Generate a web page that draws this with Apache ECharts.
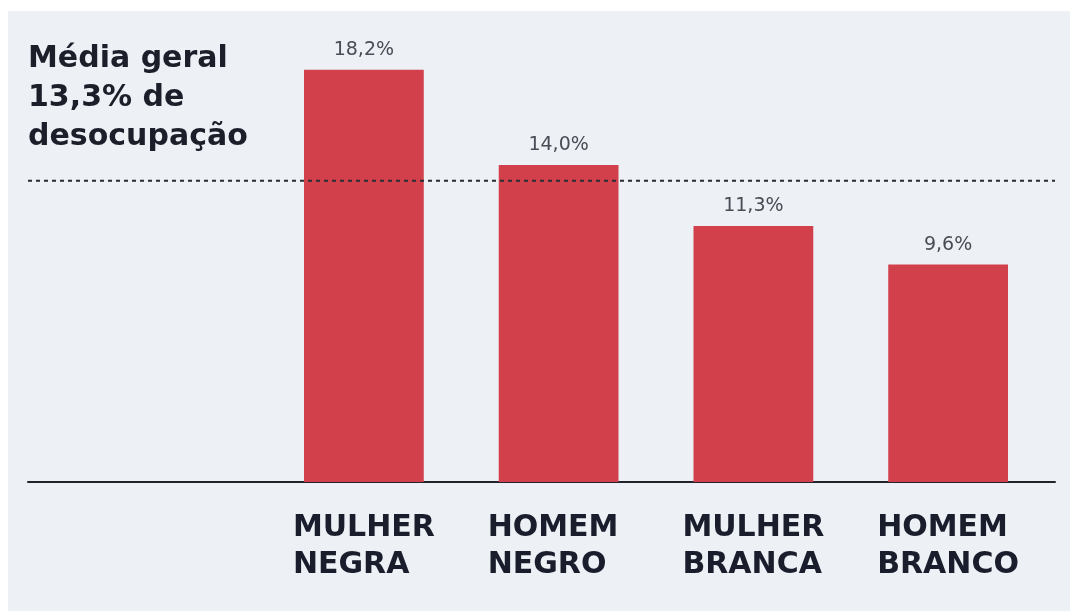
<!DOCTYPE html>
<html>
<head>
<meta charset="utf-8">
<script src="https://cdn.jsdelivr.net/npm/echarts@6/dist/echarts.min.js"></script>
<style>
  html, body { margin: 0; padding: 0; background: #ffffff; }
  #chart {
    position: absolute;
    left: 8px;
    top: 11px;
    width: 1062px;
    height: 600px;
    background: #edf1f6;
  }
</style>
</head>
<body>
<div id="chart"></div>
<script>
// dados
const categories = ['MULHER\nNEGRA', 'HOMEM\nNEGRO', 'MULHER\nBRANCA', 'HOMEM\nBRANCO'];
const desocupacao = [18.2, 14.0, 11.3, 9.6];
const mediaGeral = 13.3;
const titulo = 'Média geral\n13,3% de\ndesocupação';

const FONT = 'DejaVu Sans';

const myChart = echarts.init(document.getElementById('chart'));

const option = {
  backgroundColor: '#edf1f6',
  animation: false,
  title: {
    text: titulo,
    left: 20,
    top: 29,
    padding: 0,
    textStyle: {
      fontFamily: FONT,
      fontSize: 30,
      fontWeight: 'bold',
      lineHeight: 39,
      color: '#1c1e2a'
    }
  },
  grid: [
    // barras
    { left: 258.5, right: 24.5, top: 18, bottom: 129 },
    // linha de base e média (largura total)
    { left: 20, right: 15, top: 18, bottom: 129 }
  ],
  xAxis: [
    {
      type: 'category',
      gridIndex: 0,
      data: categories,
      axisLine: { show: false },
      axisTick: { show: false },
      axisLabel: {
        margin: 28,
        // linhas alinhadas à esquerda dentro do bloco centralizado
        formatter: (v) => v.split('\n').map(s => '{c|' + s + '}').join('\n'),
        rich: {
          c: {
            fontFamily: FONT,
            fontSize: 30,
            fontWeight: 'bold',
            lineHeight: 37,
            color: '#1a1d2b',
            align: 'left',
            width: 142
          }
        }
      }
    },
    {
      type: 'value',
      gridIndex: 1,
      min: 0,
      max: 1,
      axisLine: { show: true, onZero: false, lineStyle: { color: '#23232b', width: 2 } },
      axisTick: { show: false },
      axisLabel: { show: false },
      splitLine: { show: false }
    }
  ],
  yAxis: [
    { type: 'value', gridIndex: 0, min: 0, max: 20, show: false, splitLine: { show: false } },
    { type: 'value', gridIndex: 1, min: 0, max: 20, show: false, splitLine: { show: false } }
  ],
  series: [
    {
      name: 'Desocupação',
      type: 'bar',
      xAxisIndex: 0,
      yAxisIndex: 0,
      barWidth: '61.5%',
      data: desocupacao,
      itemStyle: { color: '#d1404b' },
      label: {
        show: true,
        position: 'top',
        distance: 10,
        fontFamily: FONT,
        fontSize: 19,
        color: '#4a4b55',
        formatter: (p) => p.value.toFixed(1).replace('.', ',') + '%'
      },
      z: 2
    },
    {
      name: 'Média geral',
      type: 'line',
      xAxisIndex: 1,
      yAxisIndex: 1,
      data: [[0, mediaGeral], [1, mediaGeral]],
      symbol: 'none',
      lineStyle: { color: '#2a2a33', width: 2, type: [4, 4] },
      z: 5
    }
  ]
};

myChart.setOption(option);
</script>
</body>
</html>
